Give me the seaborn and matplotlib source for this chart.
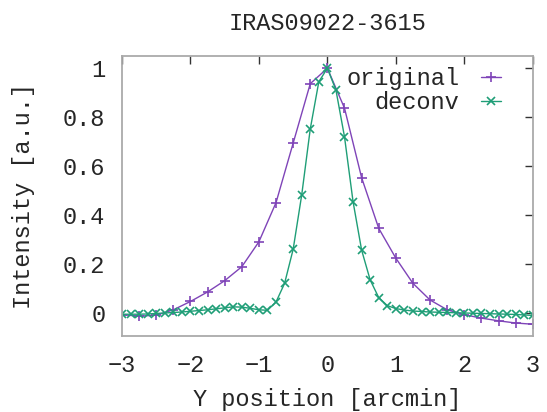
import matplotlib
matplotlib.use("Agg")
import matplotlib.pyplot as plt
import seaborn as sns
import pandas as pd

title = "IRAS09022-3615"
xlabel = "Y position [arcmin]"
ylabel = "Intensity [a.u.]"

x_orig = [-3.00, -2.75, -2.50, -2.25, -2.00, -1.75, -1.50, -1.25, -1.00, -0.75,
          -0.50, -0.25, 0.00, 0.25, 0.50, 0.75, 1.00, 1.25, 1.50, 1.75,
          2.00, 2.25, 2.50, 2.75, 3.00]
y_orig = [-0.007, -0.013, -0.009, 0.013, 0.047, 0.086, 0.132, 0.189, 0.291, 0.451,
          0.694, 0.937, 1.000, 0.837, 0.553, 0.346, 0.224, 0.121, 0.053, 0.013,
          -0.007, -0.021, -0.032, -0.041, -0.046]

x_dec = [-3.000, -2.875, -2.750, -2.625, -2.500, -2.375, -2.250, -2.125, -2.000, -1.875,
         -1.750, -1.625, -1.500, -1.375, -1.250, -1.125, -1.000, -0.875, -0.750, -0.625,
         -0.500, -0.375, -0.250, -0.125, 0.000, 0.125, 0.250, 0.375, 0.500, 0.625,
         0.750, 0.875, 1.000, 1.125, 1.250, 1.375, 1.500, 1.625, 1.750, 1.875,
         2.000, 2.125, 2.250, 2.375, 2.500, 2.625, 2.750, 2.875, 3.000]
y_dec = [-0.005, -0.005, -0.005, -0.004, -0.002, 0.000, 0.002, 0.004, 0.007, 0.010,
         0.013, 0.017, 0.021, 0.025, 0.024, 0.019, 0.013, 0.011, 0.045, 0.121,
         0.260, 0.482, 0.752, 0.945, 1.000, 0.911, 0.720, 0.455, 0.257, 0.135,
         0.063, 0.030, 0.018, 0.012, 0.008, 0.006, 0.004, 0.003, 0.002, 0.001,
         0.000, -0.001, -0.002, -0.003, -0.004, -0.005, -0.006, -0.008, -0.010]

xticks = [-3, -2, -1, 0, 1, 2, 3]
xticklabels = ["\u22123", "\u22122", "\u22121", "0", "1", "2", "3"]
yticks = [0, 0.2, 0.4, 0.6, 0.8, 1.0]
yticklabels = ["0", "0.2", "0.4", "0.6", "0.8", "1"]

c_orig = "#7f44b8"
c_dec = "#1f9e77"

sns.set_style("white")
plt.rcParams["font.family"] = ["Liberation Mono", "DejaVu Sans Mono"]
FS = 17

fig = plt.figure(figsize=(5.47, 4.12), dpi=100)
ax = fig.add_axes([0.223, 0.1845, 0.751, 0.6795])

df_o = pd.DataFrame({"x": x_orig, "y": y_orig})
df_d = pd.DataFrame({"x": x_dec, "y": y_dec})
sns.lineplot(data=df_o, x="x", y="y", ax=ax, color=c_orig, lw=1.0, marker="+",
             markersize=7, markeredgewidth=1.2, markeredgecolor=c_orig, label="original")
sns.lineplot(data=df_d, x="x", y="y", ax=ax, color=c_dec, lw=1.0, marker="x",
             markersize=6, markeredgewidth=1.2, markeredgecolor=c_dec, label="deconv")

ax.set_xlim(-3, 3)
ax.set_ylim(-0.094, 1.05)
ax.set_xticks(xticks)
ax.set_xticklabels(xticklabels, fontsize=FS)
ax.set_yticks(yticks)
ax.set_yticklabels(yticklabels, fontsize=FS)
ax.tick_params(axis="both", direction="in", length=6, width=1, color="#333333",
               top=True, right=True, pad=12)
ax.tick_params(axis="x", pad=13)
for s in ax.spines.values():
    s.set_color("#aaaaaa")
    s.set_linewidth(1.3)

ax.set_xlabel(xlabel, fontsize=FS, labelpad=8)
ax.set_ylabel(ylabel, fontsize=FS, labelpad=20)
ax.set_title(title, fontsize=FS, pad=19)

leg = ax.legend(loc="upper right", frameon=False, markerfirst=False, fontsize=FS,
                handlelength=0.85, handletextpad=0.9, labelspacing=0.05,
                borderaxespad=0.0, bbox_to_anchor=(0.945, 0.995))
for t in leg.get_texts():
    t.set_ha("right")

fig.savefig("out.png", dpi=100)
